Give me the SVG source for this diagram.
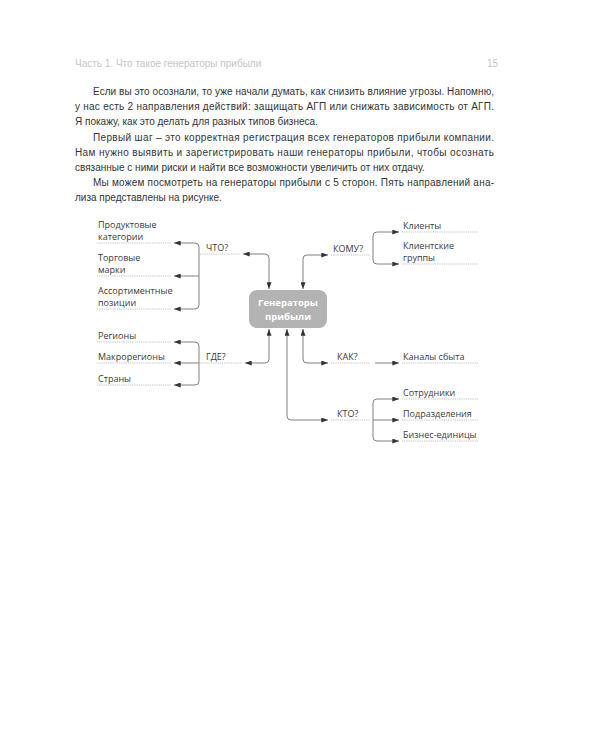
<svg xmlns="http://www.w3.org/2000/svg" width="600" height="750" viewBox="0 0 600 750">
<style>
  .hdr{font-family:"Liberation Sans",Arial,sans-serif;font-size:10px;fill:#c4c4c4}
  .body{font-family:"Liberation Sans",Arial,sans-serif;font-size:10px;fill:#333}
  .lbl{font-family:"Open Sans","Liberation Sans",sans-serif;font-size:9px;fill:#3a3a3a}
  .ttl{font-family:"Open Sans","Liberation Sans",sans-serif;font-size:9.5px;font-weight:bold;fill:#fff;text-anchor:middle}
  .arr{fill:none;stroke:#808080;stroke-width:1;marker-end:url(#ah)}
  .dual{fill:none;stroke:#808080;stroke-width:1;marker-start:url(#ah);marker-end:url(#ah)}
  .ul{fill:none;stroke:#b0b0b0;stroke-width:0.8;stroke-dasharray:1.2,1}
</style>
<defs>
  <marker id="ah" viewBox="0 0 8 6" refX="8" refY="3" markerWidth="7" markerHeight="5" markerUnits="userSpaceOnUse" orient="auto-start-reverse">
    <path d="M0,0 L8,3 L0,6 Z" fill="#333"/>
  </marker>
</defs>
<rect width="600" height="750" fill="#fff"/>

<text class="hdr" x="75" y="67">Часть 1. Что такое генераторы прибыли</text>
<text class="hdr" x="487" y="67">15</text>

<g id="paragraph">
<text class="body" x="93" y="95" textLength="401" lengthAdjust="spacing">Если вы это осознали, то уже начали думать, как снизить влияние угрозы. Напомню,</text>
<text class="body" x="75" y="110" textLength="419" lengthAdjust="spacing">у нас есть 2 направления действий: защищать АГП или снижать зависимость от АГП.</text>
<text class="body" x="75" y="125">Я покажу, как это делать для разных типов бизнеса.</text>
<text class="body" x="93" y="141" textLength="401" lengthAdjust="spacing">Первый шаг – это корректная регистрация всех генераторов прибыли компании.</text>
<text class="body" x="75" y="156" textLength="419" lengthAdjust="spacing">Нам нужно выявить и зарегистрировать наши генераторы прибыли, чтобы осознать</text>
<text class="body" x="75" y="171">связанные с ними риски и найти все возможности увеличить от них отдачу.</text>
<text class="body" x="93" y="186" textLength="401" lengthAdjust="spacing">Мы можем посмотреть на генераторы прибыли с 5 сторон. Пять направлений ана-</text>
<text class="body" x="75" y="201">лиза представлены на рисунке.</text>
</g>

<g id="center">
  <rect x="249" y="290" width="78" height="38" rx="8" fill="#b3b3b3"/>
  <text class="ttl" x="288" y="306">Генераторы</text>
  <text class="ttl" x="288" y="320">прибыли</text>
</g>

<g id="connectors">
  <path class="dual" d="M243,254 H265 Q269,254 269,258 V289"/>
  <path class="dual" d="M328,255 H307 Q303,255 303,259 V289"/>
  <path class="dual" d="M245,363 H265 Q269,363 269,359 V329"/>
  <path class="dual" d="M328,363 H307 Q303,363 303,359 V329"/>
  <path class="dual" d="M328,420 H291 Q287,420 287,416 V329"/>

  <path class="arr" d="M199,254 V247 Q199,243 195,243 H174"/>
  <path class="arr" d="M199,276 H174"/>
  <path class="arr" d="M199,254 V305 Q199,309 195,309 H174"/>
  <path class="arr" d="M199,363 V346 Q199,342 195,342 H174"/>
  <path class="arr" d="M199,363 H174"/>
  <path class="arr" d="M199,363 V381 Q199,385 195,385 H174"/>
  <path class="arr" d="M373,255 V236 Q373,232 377,232 H399"/>
  <path class="arr" d="M373,255 V260 Q373,264 377,264 H399"/>
  <path class="arr" d="M375,363 H399"/>
  <path class="arr" d="M373,420 V403 Q373,399 377,399 H399"/>
  <path class="arr" d="M373,420 H399"/>
  <path class="arr" d="M373,420 V437 Q373,441 377,441 H399"/>

  <path class="ul" d="M200,254 H240 M200,363 H242 M331,255 H370 M331,363 H370 M331,420 H370"/>
  <path class="ul" d="M97,243 H171 M97,276 H171 M97,309 H171 M97,342 H171 M97,363 H171 M97,385 H171"/>
  <path class="ul" d="M402,232 H478 M402,264 H478 M402,363 H478 M402,399 H478 M402,420 H478 M402,441 H478"/>
</g>

<g id="q-what"><text class="lbl" x="206" y="251">ЧТО?</text></g>
<g id="q-where"><text class="lbl" x="206" y="360">ГДЕ?</text></g>
<g id="q-whom"><text class="lbl" x="333" y="252">КОМУ?</text></g>
<g id="q-how"><text class="lbl" x="337" y="360">КАК?</text></g>
<g id="q-who"><text class="lbl" x="337" y="417">КТО?</text></g>

<g id="n-prodcat"><text class="lbl" x="98" y="228">Продуктовые</text><text class="lbl" x="98" y="240">категории</text></g>
<g id="n-brands"><text class="lbl" x="98" y="261">Торговые</text><text class="lbl" x="98" y="273">марки</text></g>
<g id="n-assort"><text class="lbl" x="98" y="294">Ассортиментные</text><text class="lbl" x="98" y="306">позиции</text></g>
<g id="n-regions"><text class="lbl" x="98" y="339">Регионы</text></g>
<g id="n-macro"><text class="lbl" x="98" y="360">Макрорегионы</text></g>
<g id="n-countries"><text class="lbl" x="98" y="382">Страны</text></g>
<g id="n-clients"><text class="lbl" x="403" y="229">Клиенты</text></g>
<g id="n-clientgroups"><text class="lbl" x="403" y="249">Клиентские</text><text class="lbl" x="403" y="261">группы</text></g>
<g id="n-channels"><text class="lbl" x="403" y="360">Каналы сбыта</text></g>
<g id="n-staff"><text class="lbl" x="403" y="396">Сотрудники</text></g>
<g id="n-divisions"><text class="lbl" x="403" y="417">Подразделения</text></g>
<g id="n-units"><text class="lbl" x="403" y="438">Бизнес-единицы</text></g>
</svg>
